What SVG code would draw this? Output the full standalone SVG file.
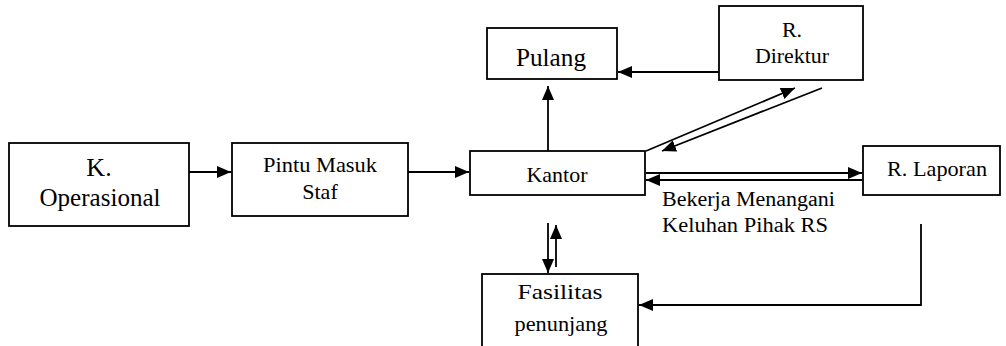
<svg xmlns="http://www.w3.org/2000/svg" width="1006" height="346" viewBox="0 0 1006 346">
  <defs>
    <marker id="ah" viewBox="0 0 14 12" refX="14" refY="6" markerWidth="14" markerHeight="12" markerUnits="userSpaceOnUse" orient="auto">
      <path d="M0,0 L14,6 L0,12 z" fill="#000"/>
    </marker>
  </defs>
  <style>
    .box{fill:#fff;stroke:#000;stroke-width:1.8}
    .arr{fill:none;stroke:#000;stroke-width:1.8;marker-end:url(#ah)}
    .t{font-family:'Liberation Serif','Times New Roman',serif;fill:#000;text-anchor:middle}
    .lbl{text-anchor:start;font-size:20px}
  </style>
  <rect width="1006" height="346" fill="#fff"/>

  <!-- connectors -->
  <g id="connectors">
    <path class="arr" d="M189,172 H231"/>
    <path class="arr" d="M408,172 H469"/>
    <path class="arr" d="M548,151 V86"/>
    <path class="arr" d="M719,72 H618"/>
    <path class="arr" d="M646,151 L795,88"/>
    <path class="arr" d="M822,88 L662,151"/>
    <path class="arr" d="M646,173 H862"/>
    <path class="arr" d="M862,180 H646"/>
    <path class="arr" d="M548,223 V273"/>
    <path class="arr" d="M556,267 V225"/>
    <path class="arr" d="M921,224 V305 H639"/>
  </g>

  <g id="k-operasional">
    <rect class="box" x="9" y="143" width="180" height="83"/>
    <text class="t" x="99" y="176" font-size="26">K.</text>
    <text class="t" x="100" y="206" font-size="26" textLength="121" lengthAdjust="spacingAndGlyphs">Operasional</text>
  </g>

  <g id="pintu-masuk">
    <rect class="box" x="232" y="143" width="176" height="73"/>
    <text class="t" x="320" y="172" font-size="22" textLength="114" lengthAdjust="spacingAndGlyphs">Pintu Masuk</text>
    <text class="t" x="320" y="199" font-size="22">Staf</text>
  </g>

  <g id="kantor">
    <rect class="box" x="470" y="151" width="175" height="44"/>
    <text class="t" x="557" y="182" font-size="22" textLength="61" lengthAdjust="spacingAndGlyphs">Kantor</text>
  </g>

  <g id="pulang">
    <rect class="box" x="487" y="28" width="130" height="51"/>
    <text class="t" x="551" y="66" font-size="26" textLength="70" lengthAdjust="spacingAndGlyphs">Pulang</text>
  </g>

  <g id="r-direktur">
    <rect class="box" x="719" y="6" width="144" height="74"/>
    <text class="t" x="792" y="37" font-size="22">R.</text>
    <text class="t" x="792" y="63" font-size="22" textLength="74" lengthAdjust="spacingAndGlyphs">Direktur</text>
  </g>

  <g id="r-laporan">
    <rect class="box" x="863" y="146" width="137" height="49"/>
    <text class="t" x="937" y="176" font-size="22" textLength="100" lengthAdjust="spacingAndGlyphs">R. Laporan</text>
  </g>

  <g id="fasilitas">
    <rect class="box" x="482" y="274" width="156" height="80"/>
    <text class="t" x="560" y="299" font-size="22" textLength="85" lengthAdjust="spacingAndGlyphs">Fasilitas</text>
    <text class="t" x="561" y="331" font-size="22" textLength="93" lengthAdjust="spacingAndGlyphs">penunjang</text>
  </g>

  <g id="label">
    <text class="t lbl" x="662" y="206" textLength="173" lengthAdjust="spacingAndGlyphs">Bekerja Menangani</text>
    <text class="t lbl" x="662" y="232" textLength="166" lengthAdjust="spacingAndGlyphs">Keluhan Pihak RS</text>
  </g>
</svg>
